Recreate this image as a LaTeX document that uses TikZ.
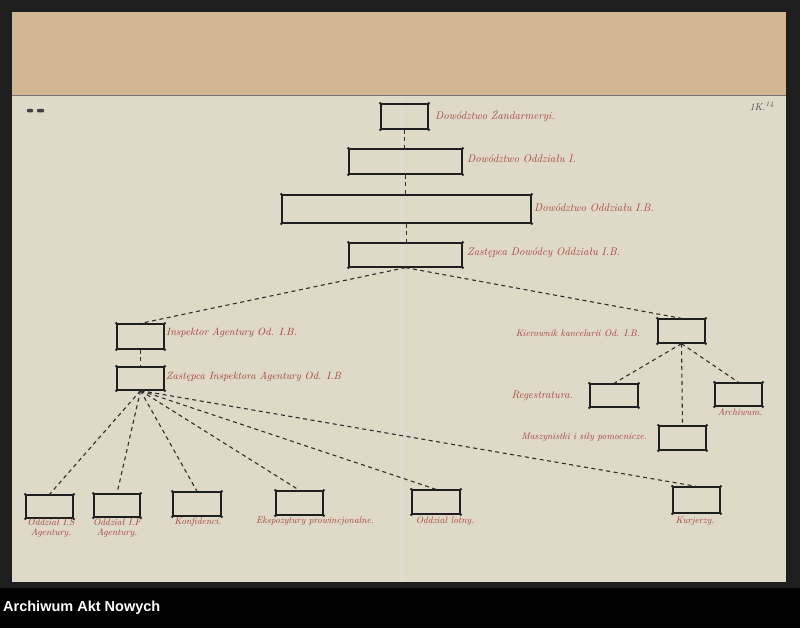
\documentclass[tikz,border=0pt]{standalone}
\usepackage{fontspec}
\newfontfamily\aanfont{Liberation Sans}
\definecolor{paper}{RGB}{223,217,200}
\definecolor{tanstrip}{RGB}{208,182,145}
\definecolor{ink}{RGB}{165,62,52}
\definecolor{frame}{RGB}{30,30,30}
\tikzset{
  box/.style={draw=black!88, line width=1.3pt, inner sep=0pt},
  conn/.style={draw=black!82, line width=1.1pt, dash pattern=on 4pt off 3.5pt},
  lab/.style={text=ink, font=\fontsize{11}{12}\selectfont\itshape, inner sep=0pt},
  mlab/.style={text=ink, font=\fontsize{10.5}{12}\selectfont\itshape, inner sep=0pt},
  slab/.style={text=ink, font=\fontsize{9.5}{9.5}\selectfont\itshape, inner sep=0pt, align=center},
}
\begin{document}
\begin{tikzpicture}[x=1pt,y=-1pt]
\useasboundingbox (0,0) rectangle (800,628);
% background
\fill[frame] (0,0) rectangle (800,628);
\fill[black] (0,588) rectangle (800,628);
\fill[tanstrip] (12,12) rectangle (786,95);
\fill[paper] (12,95) rectangle (786,582);
\draw[black!55, line width=0.6pt] (12,95) -- (786,95);
\draw[black!12, line width=0.6pt] (401,96) -- (401,582);
\node[text=white, font=\aanfont\bfseries\fontsize{14.5}{15}\selectfont, anchor=west, inner sep=0pt] (aan) at (3,608) {Archiwum Akt Nowych};
% marks
\fill[black!75, rounded corners=1pt] (27,109) rectangle (33,112.5);
\fill[black!75, rounded corners=1pt] (37,109) rectangle (44,112.5);
\node[text=black!70, font=\fontsize{10}{10}\selectfont\itshape, inner sep=0pt] (pnum) at (762,106) {1K.\textsuperscript{14}};
% boxes
\node[box, minimum width=47, minimum height=25] (zand) at (404.5,116.5) {};
\node[box, minimum width=113, minimum height=25] (odd1) at (405.5,161.5) {};
\node[box, minimum width=249, minimum height=28] (odd1b) at (406.5,209) {};
\node[box, minimum width=113, minimum height=24] (zast) at (405.5,255) {};
\node[box, minimum width=47, minimum height=25] (insp) at (140.5,336.5) {};
\node[box, minimum width=47, minimum height=23] (zinsp) at (140.5,378.5) {};
\node[box, minimum width=47, minimum height=24] (kier) at (681.5,331) {};
\node[box, minimum width=48, minimum height=23] (reg) at (614,395.5) {};
\node[box, minimum width=47, minimum height=23] (arch) at (738.5,394.5) {};
\node[box, minimum width=47, minimum height=24] (masz) at (682.5,438) {};
\node[box, minimum width=47, minimum height=23] (b1) at (49.5,506.5) {};
\node[box, minimum width=46, minimum height=23] (b2) at (117,505.5) {};
\node[box, minimum width=48, minimum height=24] (b3) at (197,504) {};
\node[box, minimum width=47, minimum height=24] (b4) at (299.5,503) {};
\node[box, minimum width=48, minimum height=24] (b5) at (436,502) {};
\node[box, minimum width=47, minimum height=26] (b6) at (696.5,500) {};
\foreach \n in {zand,odd1,odd1b,zast,insp,zinsp,kier,reg,arch,masz,b1,b2,b3,b4,b5,b6}
  \foreach \a in {north west,north east,south west,south east}
    \fill[black!85] (\n.\a) circle (1.5pt);
% connectors
\draw[conn] (zand.south) -- (zand.south |- odd1.north);
\draw[conn] (odd1.south) -- (odd1.south |- odd1b.north);
\draw[conn] (odd1b.south) -- (odd1b.south |- zast.north);
\draw[conn] (zast.south) -- (insp.north);
\draw[conn] (zast.south) -- (kier.north);
\draw[conn] (insp.south) -- (zinsp.north);
\foreach \b in {b1,b2,b3,b4,b5,b6}
  \draw[conn] (zinsp.south) -- (\b.north);
\draw[conn] (kier.south) -- (reg.north);
\draw[conn] (kier.south) -- (masz.north);
\draw[conn] (kier.south) -- (arch.north);
% labels
\node[lab, anchor=west] (lzand) at (435,116) {Dowództwo Żandarmeryi.};
\node[lab, anchor=west] (lodd1) at (467,159) {Dowództwo Oddziału I.};
\node[lab, anchor=west] (lodd1b) at (534,208) {Dowództwo Oddziału I.B.};
\node[lab, anchor=west] (lzast) at (467,253) {Zastępca Dowódcy Oddziału I.B.};
\node[mlab, anchor=west] (linsp) at (166,333) {Inspektor Agentury Od. I.B.};
\node[mlab, anchor=west] (lzinsp) at (166,377) {Zastępca Inspektora Agentury Od. I.B};
\node[slab, anchor=east] (lkier) at (640,333) {Kierownik kancelarii Od. I.B.};
\node[lab, anchor=east] (lreg) at (573,396) {Regestratura.};
\node[slab, anchor=north] (larch) at (740,408) {Archiwum.};
\node[slab, anchor=east] (lmasz) at (647,437) {Maszynistki i siły pomocnicze.};
\node[slab, anchor=north] (lb1) at (51,519) {Oddział I.S\\Agentury.};
\node[slab, anchor=north] (lb2) at (117,519) {Oddział I.F\\Agentury.};
\node[slab, anchor=north] (lb3) at (198,518) {Konfidenci.};
\node[slab, anchor=north] (lb4) at (315,517) {Ekspozytury prowincjonalne.};
\node[slab, anchor=north] (lb5) at (445,517) {Oddział lotny.};
\node[slab, anchor=north] (lb6) at (695,517) {Kurjerzy.};
\end{tikzpicture}
\end{document}
